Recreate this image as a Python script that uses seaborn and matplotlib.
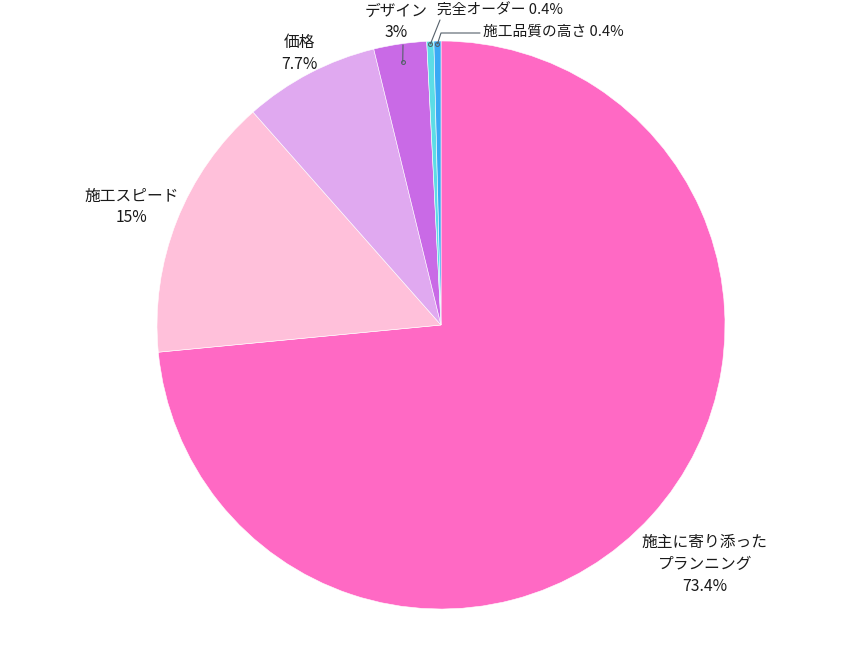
import numpy as np
import matplotlib.pyplot as plt
import seaborn as sns

sns.set_style("white")
plt.rcParams['font.family'] = ['Noto Sans CJK JP', 'DejaVu Sans']

# data
labels = ["施主に寄り添った\nプランニング", "施工スピード", "価格", "デザイン", "完全オーダー", "施工品質の高さ"]
values = [73.4, 15, 7.7, 3, 0.4, 0.4]
pct_text = ["73.4%", "15%", "7.7%", "3%", "0.4%", "0.4%"]
colors = ["#FF69C4", "#FFC0DA", "#E0A9F0", "#C96AE6", "#5CDDE6", "#3AA9F5"]

fig = plt.figure(figsize=(8.5, 6.5), dpi=100)
ax = fig.add_axes([0, 0, 1, 1])

wedges, _ = ax.pie(values, colors=colors, startangle=90, counterclock=False,
                   wedgeprops=dict(edgecolor="white", linewidth=0.4))

R = 284
cx, cy = 441, 325
ax.set_xlim(-cx / R, (850 - cx) / R)
ax.set_ylim(-(650 - cy) / R, cy / R)
ax.set_axis_off()

fs = 11.3
fs_small = 10.6
ls = 1.37
mids = [np.deg2rad((w.theta1 + w.theta2) / 2) for w in wedges]

# big slices: label placed outside, centered (radius, extra y shift in px)
for i, (r, dy) in zip(range(3), [(1.255, 0), (1.17, -4), (1.08, 0)]):
    a = mids[i]
    ax.text(r * np.cos(a), r * np.sin(a) + dy / R, labels[i] + "\n" + pct_text[i],
            ha="center", va="center", fontsize=fs, linespacing=ls, color="#1a1a1a")

# small slices with leader lines
line_kw = dict(color="#55606a", lw=0.8)

def leader(i, r0, pts, text, tx, ty, ha, size):
    a = mids[i]
    x0, y0 = r0 * np.cos(a), r0 * np.sin(a)
    xs = [x0] + [p[0] / R for p in pts]
    ys = [y0] + [p[1] / R for p in pts]
    ax.plot(xs, ys, **line_kw)
    ax.plot(x0, y0, "o", ms=2.8, mfc="none", mec="#55606a", mew=0.8)
    ax.text(tx / R, ty / R, text, ha=ha, va="center", fontsize=size, color="#1a1a1a",
            linespacing=ls)

# pixel offsets relative to center (x right, y up)
leader(3, 0.935, [(403 - cx, cy - 45)], labels[3] + "\n" + pct_text[3],
       396 - cx, cy - 22, "center", fs)
leader(4, 0.99, [(440 - cx, cy - 20)], labels[4] + " " + pct_text[4],
       437 - cx, cy - 11, "left", fs_small)
leader(5, 0.99, [(441 - cx, cy - 33), (480 - cx, cy - 33)], labels[5] + " " + pct_text[5],
       483 - cx, cy - 32, "left", fs_small)

plt.savefig("out.png", dpi=100)
